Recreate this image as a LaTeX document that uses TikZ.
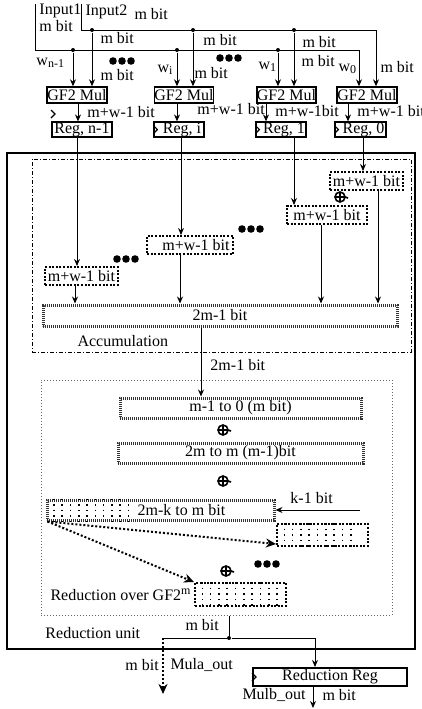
\documentclass[tikz,border=0pt]{standalone}
\usepackage{fontspec}
\setmainfont{Liberation Serif}
\usetikzlibrary{positioning, arrows.meta, calc}

\tikzset{
  boxsize/.style 2 args={minimum width=#1*0.5pt, minimum height=#2*0.5pt},
  mulbox/.style={draw, line width=0.7pt, inner sep=0pt},
  regbox/.style={draw, line width=0.6pt, inner sep=0pt},
  bitbox/.style={draw, line width=1pt, dash pattern=on 1pt off 0.8pt, inner sep=0pt},
  widebox/.style={draw=black!80, line width=1.5pt, dash pattern=on 0.6pt off 0.4pt, inner sep=0pt},
  junct/.style={circle, fill, inner sep=0pt, minimum size=2pt},
  lbl/.style={anchor=west, inner sep=0pt},
  bigdot/.style={line width=1pt, dash pattern=on 1pt off 1pt, -{Stealth[length=5pt,width=4.5pt]}},
  pics/clk/.style={code={\draw[line width=0.6pt] (0,-4) -- (4,0) -- (0,4);}},
  pics/xorsym/.style={code={\draw[line width=0.8pt] (0,0) circle (5) (-5,0) -- (5,0) (0,-5) -- (0,5) (5,0) -- (8,1);}},
  pics/dotsthree/.style={code={\fill (-9,0) circle (3.8) (0,0) circle (3.8) (9,0) circle (3.8);}},
}

\begin{document}
\begin{tikzpicture}[x=0.5pt, y=-0.5pt, font=\fontsize{8}{9.5}\selectfont,
    line width=0.5pt, >={Stealth[length=3.5pt,width=3pt]}]
  \useasboundingbox (0,0) rectangle (422,709);

  % multipliers and registers
  \node[mulbox, boxsize={60}{16}] (mula) at (77,95) {GF2 Mul};
  \node[mulbox, boxsize={58}{16}] (mulb) at (184,95) {GF2 Mul};
  \node[mulbox, boxsize={59}{16}] (mulc) at (286.5,95) {GF2 Mul};
  \node[mulbox, boxsize={60}{16}] (muld) at (367,95) {GF2 Mul};
  \node[regbox, boxsize={60}{15}] (rega) at (82,129.5) {Reg, n-1};
  \node[regbox, boxsize={50}{15}] (regb) at (179,129.5) {\hspace*{3pt}Reg, i};
  \node[regbox, boxsize={50}{15}] (regc) at (281,129.5) {\hspace*{3pt}Reg, 1};
  \node[regbox, boxsize={51}{15}] (regd) at (360.5,129.5) {\hspace*{3pt}Reg, 0};
  \foreach \r in {regb, regc, regd} \pic at (\r.west) {clk};
  \pic at (51,114) {clk};

  % inputs
  \coordinate (ina) at (35,4);
  \coordinate (inb) at (81,4);
  \coordinate (cnra) at (359,50);
  \coordinate (cnrb) at (376,30);
  \draw[->] (ina) |- (cnra) -- (cnra |- muld.north);
  \draw[->] (inb) |- (cnrb) -- (cnrb |- muld.north);
  \foreach \n/\x/\m in {ja/73/mula, jb/177/mulb, jc/278/mulc} {
    \node[junct] (\n) at (\x,50) {};
    \draw[->] (\n) -- (\n |- \m.north);
  }
  \foreach \n/\x/\m in {ka/92/mula, kb/193/mulb, kc/294/mulc} {
    \node[junct] (\n) at (\x,30) {};
    \draw[->] (\n) -- (\n |- \m.north);
  }
  \foreach \m/\r/\x in {mula/rega/78, mulb/regb/177, mulc/regc/266, muld/regd/348}
    \draw[->] (\x,0 |- \m.south) -- (\x,0 |- \r.north);

  \node[lbl] (tina) at (39,11) {Input1};
  \node[lbl] (tinam) at (39,26) {m bit};
  \node[lbl] (tinb) at (85,12) {Input2};
  \node[lbl] (tinbm) at (134,14) {m bit};
  \node[lbl] (tm1) at (100,38) {m bit};
  \node[lbl] (tm2) at (203,40) {m bit};
  \node[lbl] (tm3) at (302,42) {m bit};
  \node[lbl] (tm4) at (301,61) {m bit};
  \node[lbl] (tm5) at (380,67) {m bit};
  \node[lbl] (tm6) at (100,75) {m bit};
  \node[lbl] (tm7) at (194,73) {m bit};
  \node[lbl] (twa) at (36,63) {w\textsubscript{n-1}};
  \node[lbl] (twb) at (157,70) {w\textsubscript{i}};
  \node[lbl] (twc) at (258,67) {w\textsubscript{1}};
  \node[lbl] (twd) at (338,69) {w\textsubscript{0}};
  \node[lbl] (tpa) at (87,112) {m+w-1 bit};
  \node[lbl] (tpb) at (197,109) {m+w-1 bit};
  \node[lbl] (tpc) at (275,111) {m+w-1bit};
  \node[lbl] (tpd) at (357,111) {m+w-1 bit};
  \pic at (122,61) {dotsthree};
  \pic at (229,58) {dotsthree};

  % reduction unit and accumulation
  \node[draw, line width=0.7pt, boxsize={408}{496}] (unitbox) at (211,401) {};
  \node[draw, dash pattern=on 2pt off 1pt on 0.5pt off 1pt, boxsize={379}{193}] (accbox) at (221.5,255.5) {};
  \node[bitbox, boxsize={73}{18}] (acca) at (81.5,276) {m+w-1 bit};
  \node[bitbox, boxsize={86}{18}] (accb) at (190,245) {\hspace*{6pt}m+w-1 bit};
  \node[bitbox, boxsize={80}{18}] (accc) at (327,215) {m+w-1 bit};
  \node[bitbox, boxsize={73}{18}] (accd) at (366.5,181) {m+w-1 bit};
  \node[widebox, boxsize={354}{21}] (wide) at (220,315.5) {2m-1 bit};
  \foreach \r/\a/\x in {rega/acca/77, regb/accb/181, regc/accc/294, regd/accd/363}
    \draw[->] (\x,0 |- \r.south) -- (\x,0 |- \a.north);
  \foreach \a/\x in {acca/75, accb/180, accc/321, accd/378}
    \draw[->] (\x,0 |- \a.south) -- (\x,0 |- wide.north);
  \pic at (340,197) {xorsym};
  \pic at (251,229) {dotsthree};
  \pic at (126,259) {dotsthree};
  \node[lbl] (tacc) at (77,341) {Accumulation};

  % reduction over GF2^m
  \node[draw=black!60, densely dotted, boxsize={351}{235}] (redbox) at (216.5,497.5) {};
  \node[widebox, boxsize={241}{20}] (lowpart) at (240.5,408) {m-1 to 0 (m bit)};
  \node[widebox, boxsize={245}{20}] (highpart) at (240.5,453) {2m to m (m-1)bit};
  \node[widebox, boxsize={227}{20}] (kpart) at (160.5,510) {\hspace*{21pt}2m-k to m bit};
  \node[bitbox, boxsize={91}{22}] (segr) at (322.5,535) {};
  \node[bitbox, boxsize={91}{23}] (segs) at (240.5,594.5) {};
  \foreach \i in {1,...,10}
    \draw[line width=0.8pt, dotted] ($(kpart.north west)+(\i*8.3,0)$) -- ($(kpart.south west)+(\i*8.3,0)$);
  \foreach \i in {1,...,9}
    \draw[line width=0.8pt, dotted] ($(segr.north west)+(\i*8.3,0)$) -- ($(segr.south west)+(\i*8.3,0)$);
  \foreach \i in {1,...,10}
    \draw[line width=0.8pt, dotted] ($(segs.north west)+(\i*8.3,0)$) -- ($(segs.south west)+(\i*8.3,0)$);
  \draw[->] (201,0 |- wide.south) -- (201,0 |- lowpart.north);
  \node[lbl] (twide) at (210,365) {2m-1 bit};
  \pic at (223,430) {xorsym};
  \pic at (223,481) {xorsym};
  \pic at (226,571) {xorsym};
  \pic at (267,564) {dotsthree};
  \coordinate (kin) at (360,510);
  \draw[->] (kin) -- (kin -| kpart.east);
  \node[lbl] (tk) at (290,498) {k-1 bit};
  \draw[bigdot] ([xshift=1pt]kpart.south west) -- ([yshift=1.5pt]segr.south west);
  \draw[bigdot] ([xshift=1pt]kpart.south west) -- (segs.north west);
  \node[lbl] (tred) at (50,595) {Reduction over GF2\textsuperscript{m}};
  \node[lbl] (tunit) at (45,633) {Reduction unit};

  % outputs
  \node[regbox, line width=1pt, boxsize={154}{18}] (redreg) at (330,677) {Reduction Reg};
  \pic at (redreg.west) {clk};
  \node[junct] (jn) at (229,638) {};
  \coordinate (lft) at (163,638);
  \coordinate (mulaout) at (163,694);
  \coordinate (mulbout) at (313,708);
  \draw (jn |- redbox.south) -- (jn);
  \draw[->] (jn) -| (315,0 |- redreg.north);
  \draw (jn) -- (lft);
  \draw[bigdot] (lft) -- (mulaout);
  \draw[->] (mulbout |- redreg.south) -- (mulbout);
  \node[lbl] (tout) at (185,625) {m bit};
  \node[lbl] (touta) at (125,665) {m bit};
  \node[lbl] (tmula) at (170,665) {Mula\_out};
  \node[lbl] (tmulb) at (242,695) {Mulb\_out};
  \node[lbl] (toutb) at (322,695) {m bit};
\end{tikzpicture}
\end{document}
